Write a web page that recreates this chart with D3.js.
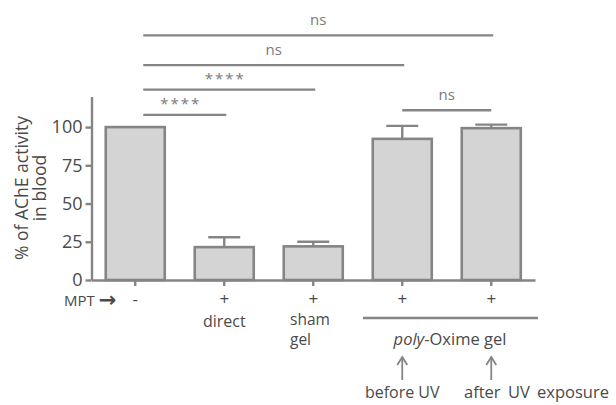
<!DOCTYPE html>
<html><head><meta charset="utf-8">
<script src="https://cdn.jsdelivr.net/npm/d3@7"></script>
<style>body{margin:0;background:#fff;} text{font-family:"Open Sans",sans-serif;}</style>
</head><body>
<svg id="c" width="616" height="405"></svg>
<script>
const categories = ["control","direct","sham gel","before UV","after UV"];
const values = [100, 21.5, 22, 92.3, 99.3];
const errors = [0, 6.5, 3, 8.5, 2.3];
const mptLabels = ["-","+","+","+","+"];
const yTicks = [0,25,50,75,100];
// brackets: [fromIndex, toIndex, level (y units), label]
const bracketFrom = [0, 0, 0, 0, 3];
const bracketTo   = [4, 3, 2, 1, 4];
const bracketLevel = [160, 140.5, 124.5, 108, 111];
const bracketLabel = ["ns","ns","****","****","ns"];

const svg = d3.select("#c");
const gray = "#858585";
const textCol = "#4a4a4a";

const x = d3.scaleBand().domain(categories).range([91.5, 535]).paddingInner(0.337).paddingOuter(0.16);
const y = d3.scaleLinear().domain([0,120]).range([280, 96.5]);

// bars
svg.selectAll("rect.bar").data(categories).join("rect")
  .attr("x", d => x(d)).attr("width", x.bandwidth())
  .attr("y", (d,i) => y(values[i])).attr("height", (d,i) => y(0) - y(values[i]))
  .attr("fill", "#d4d4d4").attr("stroke", gray).attr("stroke-width", 2.6);

// error bars
categories.forEach((c,i) => {
  if (!errors[i]) return;
  const cx = x(c) + x.bandwidth()/2;
  svg.append("line").attr("x1",cx).attr("x2",cx).attr("y1",y(values[i])).attr("y2",y(values[i]+errors[i]))
    .attr("stroke",gray).attr("stroke-width",2.4);
  svg.append("line").attr("x1",cx-16).attr("x2",cx+16).attr("y1",y(values[i]+errors[i])).attr("y2",y(values[i]+errors[i]))
    .attr("stroke",gray).attr("stroke-width",2.4);
});

// y axis
const ya = svg.append("g").attr("transform","translate(91.5,0)")
  .call(d3.axisLeft(y).tickValues(yTicks).tickSize(6).tickPadding(3).tickSizeOuter(0));
ya.select(".domain").attr("stroke",gray).attr("stroke-width",2.4);
ya.selectAll(".tick line").attr("stroke",gray).attr("stroke-width",2.4);
ya.selectAll(".tick text").attr("fill",textCol).style("font-size","18px").style("font-family","'Open Sans',sans-serif");

// x axis
const xa = svg.append("g").attr("transform","translate(0,280)")
  .call(d3.axisBottom(x).tickSize(6).tickFormat("").tickSizeOuter(0));
xa.select(".domain").attr("stroke",gray).attr("stroke-width",2.4);
xa.selectAll(".tick line").attr("stroke",gray).attr("stroke-width",2.4);

// y label
const yl = svg.append("text").attr("transform","translate(28,188) rotate(-90)")
  .attr("text-anchor","middle").attr("fill",textCol).style("font-size","17.5px");
yl.append("tspan").attr("x",0).attr("dy",0).text("% of AChE activity");
yl.append("tspan").attr("x",0).attr("dy",18).text("in blood");

// brackets
bracketFrom.forEach((f,i) => {
  const x1 = x(categories[f]) + x.bandwidth()/2 + (f===0 ? 8 : 0);
  const x2 = x(categories[bracketTo[i]]) + x.bandwidth()/2 + (f===0 ? 2 : 0);
  const yy = y(bracketLevel[i]);
  svg.append("line").attr("x1",x1).attr("x2",x2).attr("y1",yy).attr("y2",yy)
    .attr("stroke",gray).attr("stroke-width",2.4);
  const isStar = bracketLabel[i].startsWith("*");
  svg.append("text").attr("x",(x1+x2)/2 + (isStar ? -4 : 0)).attr("y",yy - (isStar ? 6 : 10))
    .attr("text-anchor","middle").attr("fill","#7a7a7a").style("font-size", "15px")
    .style("letter-spacing", isStar ? "2px":"0").text(bracketLabel[i]);
});

// MPT row
const mpt = svg.append("text").attr("x",64).attr("y",306).attr("fill",textCol).style("font-size","15px");
mpt.append("tspan").text("MPT ");
mpt.append("tspan").style("font-size","21px").style("font-family","'DejaVu Sans',sans-serif").style("font-weight","bold").attr("dy",1).text("\u2192");
categories.forEach((c,i) => {
  svg.append("text").attr("x", x(c)+x.bandwidth()/2).attr("y",305).attr("text-anchor","middle")
    .attr("fill",textCol).style("font-size","17px").text(mptLabels[i]);
});
const cx = i => x(categories[i]) + x.bandwidth()/2;
svg.append("text").attr("x",cx(1)).attr("y",327).attr("text-anchor","middle").attr("fill",textCol).style("font-size","16px").text("direct");
svg.append("text").attr("x",290).attr("y",325).attr("fill",textCol).style("font-size","15.5px").text("sham");
svg.append("text").attr("x",290).attr("y",345).attr("fill",textCol).style("font-size","15.5px").text("gel");
svg.append("line").attr("x1",363).attr("x2",538).attr("y1",318).attr("y2",318).attr("stroke",gray).attr("stroke-width",2.4);
const pt = svg.append("text").attr("x",450).attr("y",345).attr("text-anchor","middle").attr("fill",textCol).style("font-size","16.5px");
pt.append("tspan").style("font-style","italic").text("poly");
pt.append("tspan").text("-Oxime gel");
// arrows
[3,4].forEach(i => {
  const ax = cx(i);
  svg.append("line").attr("x1",ax).attr("x2",ax).attr("y1",380).attr("y2",358).attr("stroke",gray).attr("stroke-width",1.8);
  svg.append("path").attr("d",`M${ax-5},${365} L${ax},${357} L${ax+5},${365}`).attr("fill","none").attr("stroke",gray).attr("stroke-width",1.8);
});
svg.append("text").attr("x",cx(3)).attr("y",398).attr("text-anchor","middle").attr("fill",textCol).style("font-size","16px").text("before UV");
svg.append("text").attr("x",464).attr("y",398).attr("fill",textCol).style("font-size","16.5px").style("word-spacing","3px").text("after UV exposure");
</script>
</body></html>
